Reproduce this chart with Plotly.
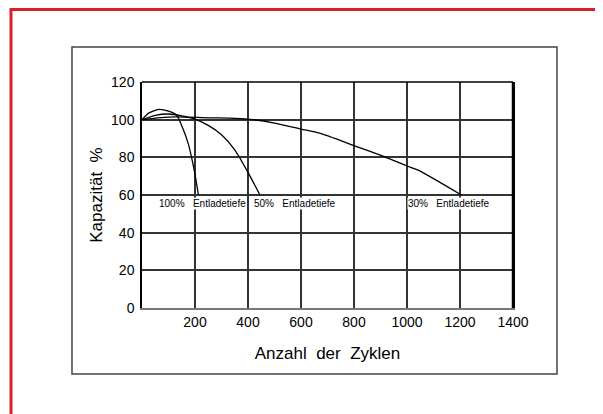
import plotly.graph_objects as go

# Zyklen / Kapazität je Entladetiefe
cycles_100 = [0, 25, 64, 100, 130, 155, 175, 187, 200, 213]
capacity_100 = [100, 103.5, 105.5, 104.5, 102.5, 95, 87, 80, 71, 60]

cycles_50 = [0, 50, 100, 150, 200, 250, 300, 350, 400, 445]
capacity_50 = [100, 102.3, 103, 102, 100.3, 97, 92, 84, 72, 60]

cycles_30 = [0, 60, 130, 250, 350, 420, 500, 600, 670, 800, 920, 1000, 1040, 1205]
capacity_30 = [100, 101, 101.5, 101, 100.7, 100, 98.2, 95, 92.8, 86.2, 80, 75.4, 73.3, 60]

x_ticks = [200, 400, 600, 800, 1000, 1200, 1400]
y_ticks = [0, 20, 40, 60, 80, 100, 120]

labels = ["100%\u00a0\u00a0 Entladetiefe", "50%\u00a0\u00a0 Entladetiefe", "30%\u00a0\u00a0 Entladetiefe"]
label_x = [60, 419, 1000]

FONT = "Liberation Sans, Arial, sans-serif"

fig = go.Figure()

for xs, ys in [(cycles_100, capacity_100), (cycles_50, capacity_50), (cycles_30, capacity_30)]:
    fig.add_trace(go.Scatter(
        x=xs, y=ys,
        mode="lines",
        line=dict(color="black", width=1.3, shape="spline", smoothing=0.7),
        showlegend=False,
        hoverinfo="skip"
    ))

annotations = []
for txt, lx in zip(labels, label_x):
    annotations.append(dict(
        x=lx, y=60, xref="x", yref="y",
        text=txt, showarrow=False,
        xanchor="left", yanchor="top", yshift=-2,
        bgcolor="white", borderpad=0,
        font=dict(family=FONT, size=10, color="black")
    ))

# die Seite hat 8px Rand (body margin), daher Figur 595x406
fig.update_layout(
    width=595, height=406,
    margin=dict(l=134, r=90, t=74, b=106),
    paper_bgcolor="white",
    plot_bgcolor="white",
    font=dict(family=FONT, size=14, color="black"),
    xaxis=dict(
        range=[0, 1400],
        tickvals=x_ticks,
        showgrid=True, gridcolor="#333", gridwidth=1.5,
        showline=True, linecolor="#777", linewidth=2,
        zeroline=False,
        ticks="", ticklabelstandoff=0,
        title=dict(text="Anzahl\u00a0 der\u00a0 Zyklen", standoff=18),
    ),
    yaxis=dict(
        range=[0, 120],
        tickvals=y_ticks,
        showgrid=True, gridcolor="#333", gridwidth=1.5,
        showline=True, linecolor="black", linewidth=1.5,
        mirror=True,
        zeroline=False,
        ticks="", ticklabelstandoff=3,
        title=dict(text="Kapazität\u00a0 %", standoff=4),
    ),
    annotations=annotations,
    shapes=[
        # Rahmen um das Diagramm
        dict(type="rect", xref="paper", yref="paper",
             x0=-0.1887, x1=1.1186, y0=-0.292, y1=1.155,
             line=dict(color="#444", width=1.5), layer="below"),
        # obere Linie
        dict(type="line", xref="paper", yref="paper",
             x0=0, x1=1, y0=1, y1=1,
             line=dict(color="black", width=1.5)),
        # rechte Linie
        dict(type="line", xref="paper", yref="paper",
             x0=1, x1=1, y0=0, y1=1,
             line=dict(color="black", width=2.5)),
        # roter Rand
        dict(type="rect", xref="paper", yref="paper",
             x0=-0.3531, x1=2, y0=-2, y1=1.3208,
             line=dict(color="#d8202a", width=3)),
    ],
)

fig.write_html("out.html")
